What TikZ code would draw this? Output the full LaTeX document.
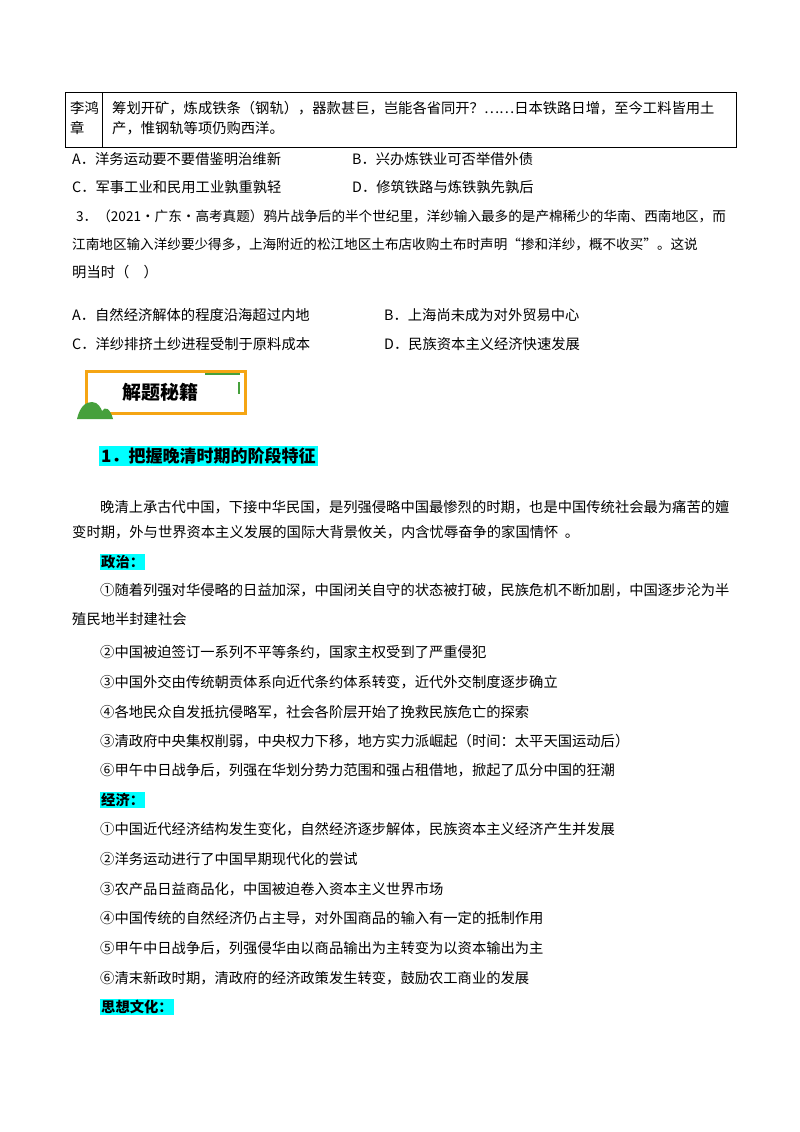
\documentclass[tikz,border=0pt]{standalone}
\usepackage{fontspec}
\setmainfont{Noto Sans CJK SC}
\definecolor{cy}{RGB}{0,255,255}
\definecolor{mt}{RGB}{70,160,60}
\definecolor{orb}{RGB}{245,165,20}
\begin{document}
\begin{tikzpicture}[x=1pt,y=-1pt,
  t/.style={anchor=west,inner sep=0pt,font=\fontsize{14.3}{16}\selectfont},
  tq/.style={anchor=west,inner sep=0pt,font=\fontsize{13.6}{16}\selectfont},
  hl/.style={fill=cy,inner sep=1pt,anchor=west,font=\fontsize{14.3}{16}\selectfont\bfseries}]
\useasboundingbox (0,0) rectangle (800,1132);
\fill[white] (0,0) rectangle (800,1132);
% table
\draw[line width=1pt] (65,92) rectangle (736,147);
\draw[line width=1pt] (102,92) -- (102,147);
\node[t] (c1a) at (70,108) {李鸿};
\node[t] (c1b) at (70,128) {章};
\node[t] (c2a) at (112,108) {筹划开矿，炼成铁条（钢轨），器款甚巨，岂能各省同开？……日本铁路日增，至今工料皆用土};
\node[t] (c2b) at (112,128) {产，惟钢轨等项仍购西洋。};
\node[t] (oa) at (72,159) {A．洋务运动要不要借鉴明治维新};
\node[t] (ob) at (352,159) {B．兴办炼铁业可否举借外债};
\node[t] (oc) at (72,187) {C．军事工业和民用工业孰重孰轻};
\node[t] (od) at (352,187) {D．修筑铁路与炼铁孰先孰后};
\node[tq] (q1) at (76,216) {3．（2021·广东·高考真题）鸦片战争后的半个世纪里，洋纱输入最多的是产棉稀少的华南、西南地区，而};
\node[tq] (q2) at (72,244) {江南地区输入洋纱要少得多，上海附近的松江地区土布店收购土布时声明“掺和洋纱，概不收买”。这说};
\node[t] (q3) at (72,272) {明当时（\quad ）};
\node[t] (pa) at (72,315) {A．自然经济解体的程度沿海超过内地};
\node[t] (pb) at (384,315) {B．上海尚未成为对外贸易中心};
\node[t] (pc) at (72,344) {C．洋纱排挤土纱进程受制于原料成本};
\node[t] (pd) at (384,344) {D．民族资本主义经济快速发展};
% banner
\draw[orb,line width=3pt] (86,371) rectangle (245,413);
\draw[mt,line width=1.2pt] (205,374) -- (240,374) (239,382) -- (239,394);
\fill[mt] (77,419) .. controls (80,406) and (86,402) .. (92,402) .. controls (98,402) and (101,408) .. (102,411) .. controls (105,406) and (110,408) .. (113,419) -- cycle;
\node[inner sep=0pt,font=\fontsize{19}{22}\selectfont\bfseries] (ban) at (160,392) {解题秘籍};
\node[hl,inner sep=2pt,font=\fontsize{17}{20}\selectfont\bfseries] (h1) at (99,456) {1．把握晚清时期的阶段特征};
\node[t] (p1) at (100,507) {晚清上承古代中国，下接中华民国，是列强侵略中国最惨烈的时期，也是中国传统社会最为痛苦的嬗};
\node[t] (p2) at (72,532) {变时期，外与世界资本主义发展的国际大背景攸关，内含忧辱奋争的家国情怀\ \ 。};
\node[hl] (zz) at (100,562) {政治：};
\node[t] (z1) at (100,590) {①随着列强对华侵略的日益加深，中国闭关自守的状态被打破，民族危机不断加剧，中国逐步沦为半};
\node[t] (z1b) at (72,619) {殖民地半封建社会};
\node[t] (z2) at (100,652) {②中国被迫签订一系列不平等条约，国家主权受到了严重侵犯};
\node[t] (z3) at (100,682) {③中国外交由传统朝贡体系向近代条约体系转变，近代外交制度逐步确立};
\node[t] (z4) at (100,712) {④各地民众自发抵抗侵略军，社会各阶层开始了挽救民族危亡的探索};
\node[t] (z5) at (100,741) {③清政府中央集权削弱，中央权力下移，地方实力派崛起（时间：太平天国运动后）};
\node[t] (z6) at (100,770) {⑥甲午中日战争后，列强在华划分势力范围和强占租借地，掀起了瓜分中国的狂潮};
\node[hl] (jj) at (100,800) {经济：};
\node[t] (j1) at (100,829) {①中国近代经济结构发生变化，自然经济逐步解体，民族资本主义经济产生并发展};
\node[t] (j2) at (100,859) {②洋务运动进行了中国早期现代化的尝试};
\node[t] (j3) at (100,889) {③农产品日益商品化，中国被迫卷入资本主义世界市场};
\node[t] (j4) at (100,918) {④中国传统的自然经济仍占主导，对外国商品的输入有一定的抵制作用};
\node[t] (j5) at (100,948) {⑤甲午中日战争后，列强侵华由以商品输出为主转变为以资本输出为主};
\node[t] (j6) at (100,978) {⑥清末新政时期，清政府的经济政策发生转变，鼓励农工商业的发展};
\node[hl] (sx) at (100,1007) {思想文化：};
\end{tikzpicture}
\end{document}
